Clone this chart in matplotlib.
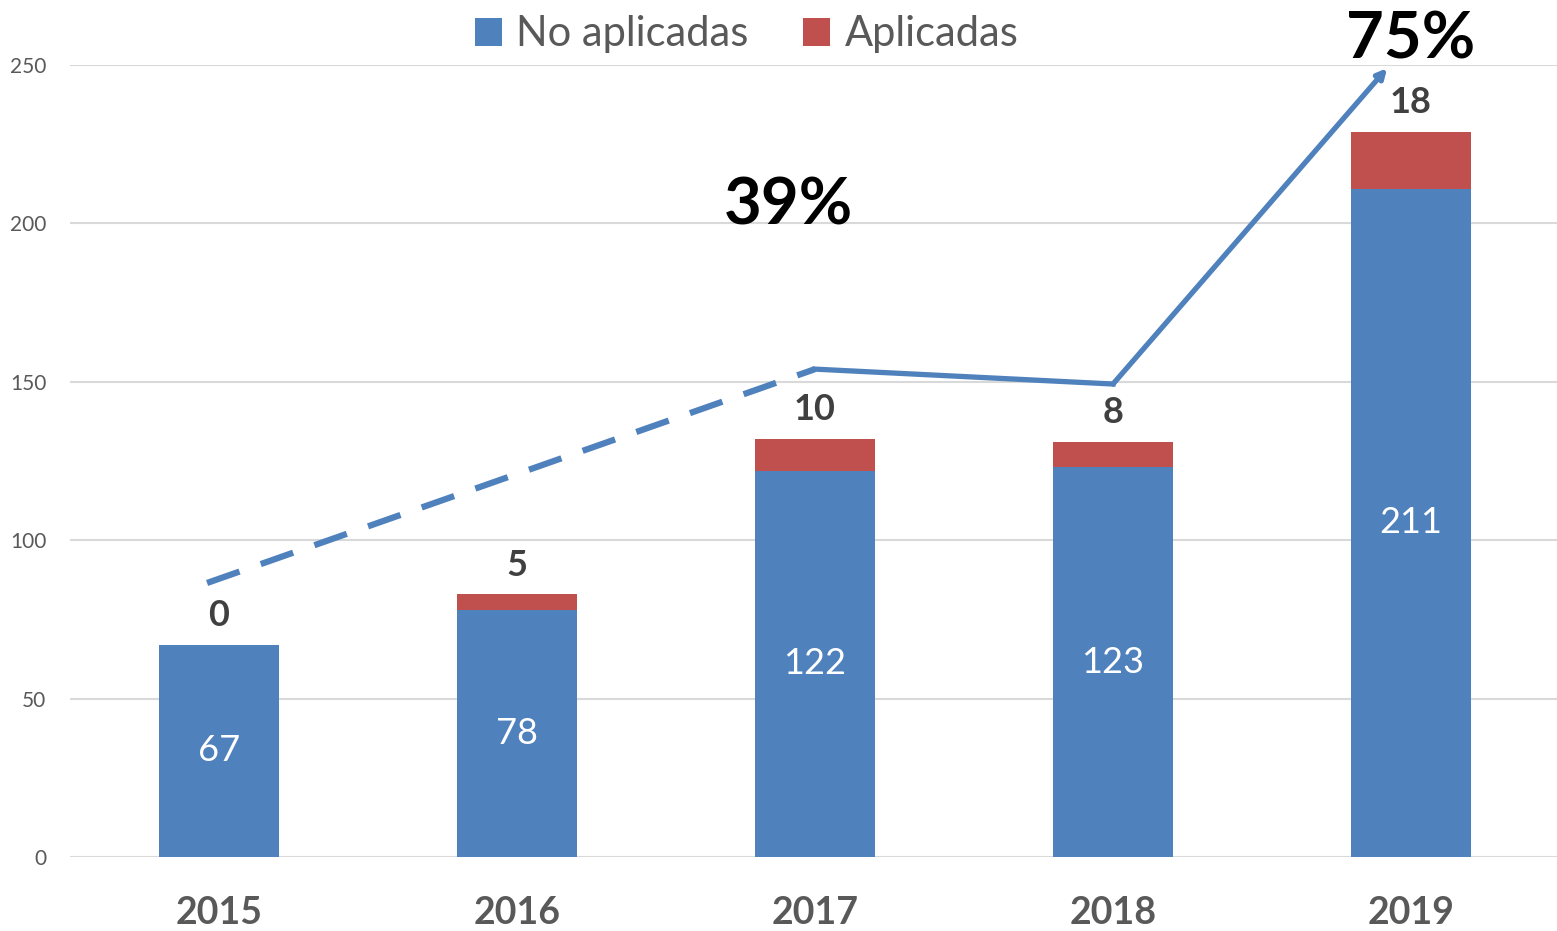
import numpy as np
import matplotlib.pyplot as plt

years = ["2015", "2016", "2017", "2018", "2019"]
no_aplicadas = [67, 78, 122, 123, 211]
aplicadas = [0, 5, 10, 8, 18]

# trend annotation (x in bar positions, y in axis units)
dash_x = [-0.04, 2.0]
dash_y = [86.5, 154]
solid_x = [2.0, 3.0]
solid_y = [154, 149.3]
arrow_x = [3.0, 3.92]
arrow_y = [149.3, 249]
pct_labels = ["39%", "75%"]
pct_x = [1.91, 4.0]
pct_y = [199.5, 252]

BLUE = "#4F81BD"
RED = "#C0504D"
GREY = "#595959"

plt.rcParams["font.family"] = ["Lato", "DejaVu Sans"]

fig = plt.figure(figsize=(15.57, 9.31), dpi=100)
ax = fig.add_axes([70 / 1557, 74 / 931, 1487 / 1557, 792 / 931])

x = np.arange(len(years))
ax.bar(x, no_aplicadas, width=0.4, color=BLUE, label="No aplicadas", zorder=2)
ax.bar(x, aplicadas, width=0.4, bottom=no_aplicadas, color=RED, label="Aplicadas", zorder=2)

for xi, v in zip(x, no_aplicadas):
    ax.text(xi, v / 2, str(v), ha="center", va="center", color="white", fontsize=26, zorder=3)
for xi, v, b in zip(x, aplicadas, no_aplicadas):
    ax.annotate(str(v), (xi, v + b), xytext=(0, 9), textcoords="offset points",
                ha="center", va="bottom", color="#404040", fontsize=26, fontweight="bold")

ax.plot(dash_x, dash_y, color=BLUE, lw=4.5, dashes=(5.5, 3.6), solid_capstyle="butt", zorder=4)
ax.plot(solid_x, solid_y, color=BLUE, lw=3.8, zorder=4, solid_joinstyle="miter")
ax.annotate("", xy=(arrow_x[1], arrow_y[1]), xytext=(arrow_x[0], arrow_y[0]),
            arrowprops=dict(arrowstyle="-|>,head_length=0.55,head_width=0.28", color=BLUE, lw=3.8,
                            shrinkA=0, shrinkB=0), zorder=4, annotation_clip=False)

for t, tx, ty in zip(pct_labels, pct_x, pct_y):
    ax.text(tx, ty, t, ha="center", va="baseline", fontsize=47, fontweight="bold",
            color="black", zorder=5, clip_on=False)

ax.set_xlim(-0.5, 4.49)
ax.set_ylim(0, 250)
ax.set_yticks(np.arange(0, 251, 50))
ax.set_xticks(x)
ax.set_xticklabels(years, fontsize=27, fontweight="bold", color=GREY)
ax.tick_params(axis="y", labelsize=15, colors=GREY, length=0, pad=17)
ax.tick_params(axis="x", length=0, pad=28)
ax.grid(axis="y", color="#D9D9D9", lw=1.5, zorder=0)
for s in ax.spines.values():
    s.set_visible(False)

leg = ax.legend(loc="upper center", bbox_to_anchor=(0.455, 1.11), ncol=2, frameon=False,
                fontsize=30, handlelength=0.65, handleheight=0.65, handletextpad=0.35,
                columnspacing=1.3)
for t in leg.get_texts():
    t.set_color(GREY)

fig.savefig("out.png", dpi=100)
